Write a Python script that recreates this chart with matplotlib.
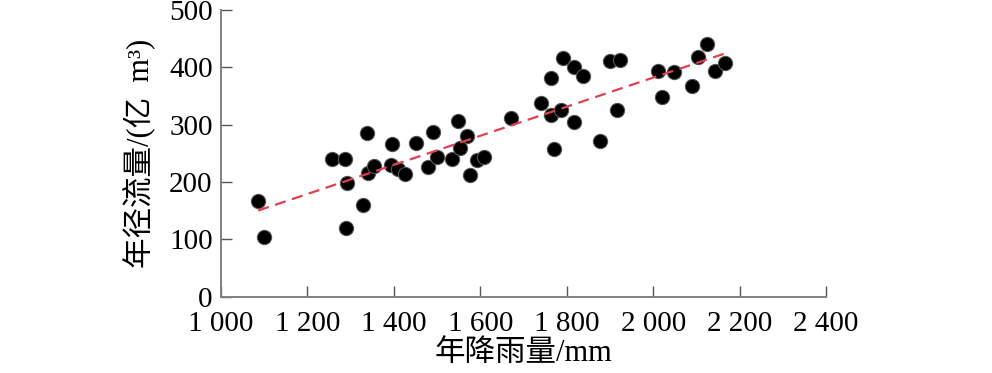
import numpy as np
import matplotlib
matplotlib.use("Agg")
import matplotlib.pyplot as plt

plt.rcParams['font.family'] = ['Liberation Serif', 'Noto Sans CJK SC']

# 年降雨量 (mm) 与 年径流量 (亿 m3)
rain = [1086, 1100, 1257, 1286, 1337, 1291, 1289, 1329, 1340, 1353,
        1396, 1393, 1410, 1426, 1451, 1491, 1480, 1499, 1535, 1548,
        1569, 1553, 1575, 1592, 1609, 1671, 1740, 1763, 1792, 1817,
        1837, 1764, 1787, 1817, 1771, 1877, 1899, 1922, 1916, 2012,
        2047, 2020, 2090, 2103, 2124, 2143, 2167]
runoff = [167, 104, 241, 241, 285, 198, 120, 160, 215, 228,
          267, 230, 223, 214, 268, 287, 227, 244, 240, 306,
          280, 260, 213, 239, 243, 311, 337, 382, 417, 401,
          385, 316, 325, 304, 257, 272, 411, 412, 325, 393,
          392, 348, 367, 418, 441, 394, 407]

xticks = [1000, 1200, 1400, 1600, 1800, 2000, 2200, 2400]
xticklabels = ['1 000', '1 200', '1 400', '1 600', '1 800', '2 000', '2 200', '2 400']
yticks = [0, 100, 200, 300, 400, 500]

rain = np.array(rain)
runoff = np.array(runoff)
k, b = np.polyfit(rain, runoff, 1)
xs = np.array([rain.min(), rain.max()])

fig = plt.figure(figsize=(9.92, 3.73), dpi=100)
ax = fig.add_axes([0.2228, 0.2046, 0.61, 0.7686])

ax.scatter(rain, runoff, s=105, c='black', edgecolors='#555555', linewidths=0.8, zorder=3)
ax.plot(xs, k * xs + b, '--', color='#E0404F', lw=1.6, dashes=(5, 3), zorder=4)

ax.set_xlim(1000, 2400)
ax.set_ylim(0, 500)
ax.set_xticks(xticks)
ax.set_xticklabels(xticklabels)
ax.set_yticks(yticks)

for s in ['top', 'right']:
    ax.spines[s].set_visible(False)
for s in ['left', 'bottom']:
    ax.spines[s].set_color('#808080')
    ax.spines[s].set_linewidth(1.4)
ax.tick_params(direction='in', length=8, width=1.0, color='#555555', labelsize=21)
ax.tick_params(axis='y', pad=6)
ax.tick_params(axis='x', pad=10)

ax.set_xlabel('年降雨量/mm', fontsize=22, labelpad=2)
ax.set_ylabel('年径流量/(亿  m³)', fontsize=22, labelpad=9)

fig.savefig('out.png', dpi=100)
